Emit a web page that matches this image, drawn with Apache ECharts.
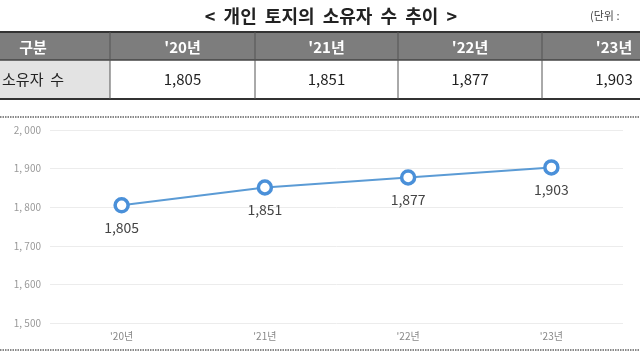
<!DOCTYPE html>
<html>
<head>
<meta charset="utf-8">
<script src="https://cdn.jsdelivr.net/npm/echarts@6/dist/echarts.min.js"></script>
<style>
html,body{margin:0;padding:0;background:#fff;}
#c{width:640px;height:360px;}
</style>
</head>
<body>
<div id="c"></div>
<script>
const title = '< 개인 토지의 소유자 수 추이 >';
const unitText = '(단위 :';
const headerFirst = '구분';
const rowLabel = '소유자 수';
const categories = ["'20년", "'21년", "'22년", "'23년"];
const owners = [1805, 1851, 1877, 1903];
const yTicks = [1500, 1600, 1700, 1800, 1900, 2000];

const fmt = v => v.toLocaleString('en-US');
const FONT = '"Noto Sans CJK KR", "Noto Sans", sans-serif';

const chart = echarts.init(document.getElementById('c'), null, {renderer: 'canvas'});

// table layout
const colEdges = [-44, 110, 255, 398, 542, 686];
const tTop = 32, hBottom = 60, rBottom = 99;
const g = [];
g.push({type:'text', style:{x:331, y:16, text:title.split(' ').join('  '), align:'center', verticalAlign:'middle', font:'bold 18px ' + FONT, fill:'#222'}, z:10});
g.push({type:'text', style:{x:590, y:16, text:unitText, verticalAlign:'middle', font:'11px ' + FONT, fill:'#444'}, z:10});
// header background
g.push({type:'rect', shape:{x:0, y:tTop, width:640, height:hBottom - tTop}, style:{fill:'#7d7d7d'}});
g.push({type:'rect', shape:{x:0, y:hBottom, width:colEdges[1], height:rBottom - hBottom}, style:{fill:'#e3e3e3'}});
// borders
g.push({type:'line', shape:{x1:0, y1:tTop, x2:640, y2:tTop}, style:{stroke:'#333', lineWidth:2}});
g.push({type:'line', shape:{x1:0, y1:hBottom, x2:640, y2:hBottom}, style:{stroke:'#444', lineWidth:1.5}});
g.push({type:'line', shape:{x1:0, y1:rBottom, x2:640, y2:rBottom}, style:{stroke:'#333', lineWidth:2}});
for (let i = 1; i < colEdges.length - 1; i++) {
  g.push({type:'line', shape:{x1:colEdges[i], y1:tTop, x2:colEdges[i], y2:rBottom}, style:{stroke:'#555', lineWidth:1}});
}
const headers = [headerFirst].concat(categories);
const rowVals = [rowLabel.split(' ').join('  ')].concat(owners.map(fmt));
for (let i = 0; i < headers.length; i++) {
  const cx = (colEdges[i] + colEdges[i + 1]) / 2;
  g.push({type:'text', style:{x:cx, y:(tTop + hBottom) / 2 + 1, text:headers[i], align:'center', verticalAlign:'middle', font:'bold 15px ' + FONT, fill:'#fff'}, z:10});
  g.push({type:'text', style:{x:cx, y:(hBottom + rBottom) / 2, text:rowVals[i], align:'center', verticalAlign:'middle', font:'15px ' + FONT, fill:'#222'}, z:10});
}
// chart frame dotted lines
g.push({type:'line', shape:{x1:0, y1:117, x2:640, y2:117}, style:{stroke:'#888', lineWidth:2, lineDash:[1.5,1]}});
g.push({type:'line', shape:{x1:0, y1:350, x2:640, y2:350}, style:{stroke:'#888', lineWidth:2, lineDash:[1.5,1]}});

chart.setOption({
  animation:false,
  backgroundColor:'#fff',
  graphic:g,
  grid:{left:50, right:17, top:130, bottom:37},
  xAxis:{
    type:'category', data:categories, boundaryGap:true,
    axisLine:{show:false}, axisTick:{show:false},
    axisLabel:{color:'#888', fontSize:10, fontFamily:FONT, margin:8}
  },
  yAxis:{
    type:'value', min:yTicks[0], max:yTicks[yTicks.length-1], interval:100,
    axisLine:{show:false}, axisTick:{show:false},
    axisLabel:{color:'#999', fontSize:10, fontFamily:FONT, margin:9, formatter:v => fmt(v).replace(',', ', ')},
    splitLine:{lineStyle:{color:'#ececec', width:1}}
  },
  series:[{
    type:'line', data:owners,
    symbol:'circle', symbolSize:13,
    lineStyle:{color:'#5b9bd5', width:2},
    itemStyle:{color:'#fff', borderColor:'#4a90d9', borderWidth:3.5},
    label:{show:true, position:'bottom', distance:7, formatter:p => fmt(p.value), color:'#444', fontSize:14, fontFamily:FONT}
  }]
});
</script>
</body>
</html>
